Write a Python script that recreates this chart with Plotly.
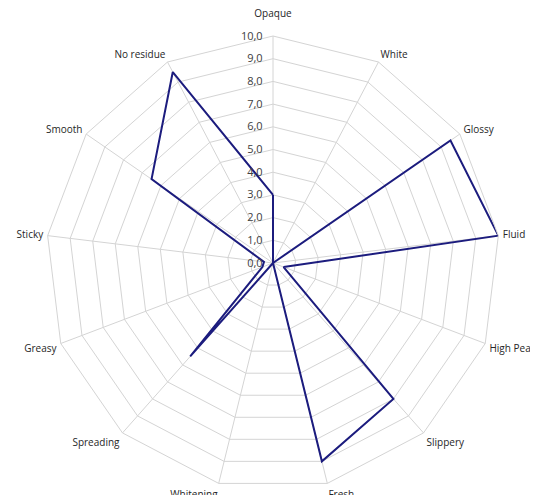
import plotly.graph_objects as go

categories = ["Opaque", "White", "Glossy", "Fluid", "High Peak", "Slippery", "Fresh",
              "Whitening", "Spreading", "Greasy", "Sticky", "Smooth", "No residue"]
values = [3.0, 0.0, 9.5, 10.0, 0.5, 8.0, 9.0, 0.0, 5.5, 0.5, 0.4, 6.5, 9.5]
radial_ticks = [0, 1, 2, 3, 4, 5, 6, 7, 8, 9, 10]

grid = "#d4d4d4"
W, H = 538, 495
off = 8  # page body margin
cx, cy, R = 273 - off, 263 - off, 227

tick_text = [c + "<br> " if c == "Opaque" else c for c in categories]

fig = go.Figure()
fig.add_trace(go.Scatterpolar(
    r=values + values[:1],
    theta=categories + categories[:1],
    mode="lines",
    line=dict(color="#1c1c7e", width=2),
    showlegend=False,
    hoverinfo="skip",
))

fig.update_layout(
    width=W, height=H,
    separators=",.",
    paper_bgcolor="white",
    plot_bgcolor="white",
    margin=dict(l=0, r=0, t=0, b=0),
    font=dict(family="Open Sans, Liberation Sans, sans-serif", size=10, color="#404040"),
    polar=dict(
        bgcolor="white",
        gridshape="linear",
        domain=dict(x=[(cx - R) / W, (cx + R) / W],
                    y=[(H - cy - R) / H, (H - cy + R) / H]),
        radialaxis=dict(
            range=[0, 10],
            tickvals=radial_ticks,
            tickformat=".1f",
            angle=90,
            tickangle=90,
            side="counterclockwise",
            showline=False,
            gridcolor=grid,
            gridwidth=1,
            ticks="outside",
            ticklen=6,
            tickcolor="rgba(0,0,0,0)",
            tickfont=dict(size=11, color="#404040"),
        ),
        angularaxis=dict(
            rotation=90,
            direction="clockwise",
            tickmode="array",
            tickvals=categories,
            ticktext=tick_text,
            gridcolor=grid,
            linecolor=grid,
            linewidth=1,
            ticks="outside",
            ticklen=2,
            tickcolor="rgba(0,0,0,0)",
            tickfont=dict(size=10, color="#262626"),
        ),
    ),
)

fig.write_html("out.html")
